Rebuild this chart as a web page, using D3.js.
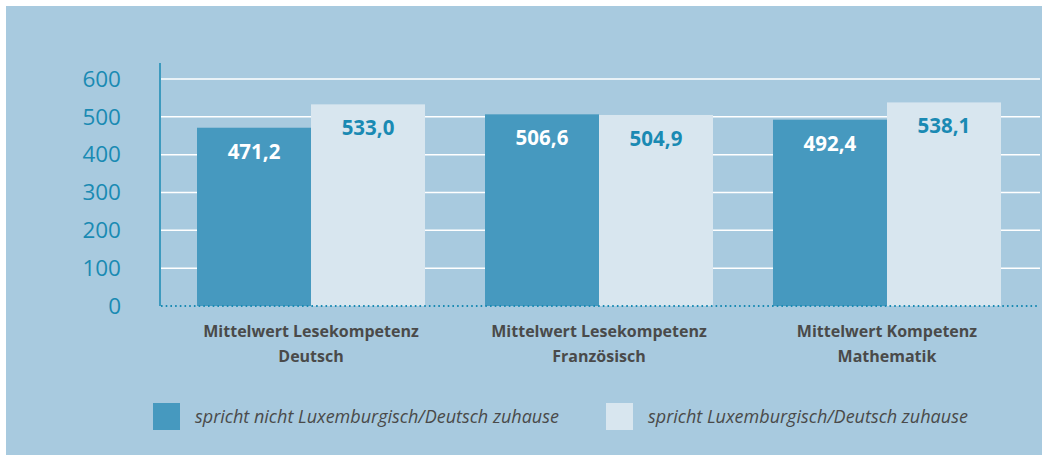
<!DOCTYPE html>
<html>
<head>
<meta charset="utf-8">
<script src="https://cdn.jsdelivr.net/npm/d3@7"></script>
<style>
  body { margin: 0; background: #fff; }
  svg { display: block; }
</style>
</head>
<body>
<div id="chart"></div>
<script>
// chart data
const categories = [
  ["Mittelwert Lesekompetenz", "Deutsch"],
  ["Mittelwert Lesekompetenz", "Französisch"],
  ["Mittelwert Kompetenz", "Mathematik"]
]
const seriesNames = [
  "spricht nicht Luxemburgisch/Deutsch zuhause",
  "spricht Luxemburgisch/Deutsch zuhause"
]
const notLux = [471.2, 506.6, 492.4]
const lux = [533.0, 504.9, 538.1]
const yTicks = [0, 100, 200, 300, 400, 500, 600]

const W = 1042, H = 455
const BG = "#a8cadf", DARK = "#4699bf", LIGHT = "#d8e6ef", TEAL = "#1a8ab3", GREY = "#4a4a4a"
const fmt = v => d3.format(".1f")(v).replace(".", ",")

const svg = d3.select("#chart").append("svg")
  .attr("width", W)
  .attr("height", H)

svg.append("rect")
  .attr("x", 6).attr("y", 6)
  .attr("width", W - 6).attr("height", H - 6)
  .attr("fill", BG)

const y = d3.scaleLinear()
  .domain([0, 600])
  .range([306, 79])

const x0 = d3.scaleBand()
  .domain(d3.range(categories.length))
  .range([167, 1031])
  .paddingInner(0.2083)
  .paddingOuter(0.1042)

const x1 = d3.scaleBand()
  .domain([0, 1])
  .range([0, x0.bandwidth()])

const rows = categories.map((c, i) => ({ i, values: [notLux[i], lux[i]] }))

// gridlines
svg.append("g")
  .selectAll("line")
  .data(yTicks.filter(d => d > 0))
  .join("line")
    .attr("x1", 161).attr("x2", 1040)
    .attr("y1", d => y(d)).attr("y2", d => y(d))
    .attr("stroke", "#fff")
    .attr("stroke-width", 1.5)

// y axis
const yAxis = svg.append("g")
  .attr("transform", "translate(160,0)")
  .call(d3.axisLeft(y).tickValues(yTicks).tickSize(0).tickPadding(39))
yAxis.select(".domain").remove()
yAxis.selectAll("text")
  .attr("fill", TEAL)
  .attr("font-family", "Open Sans")
  .attr("font-size", 22.5)

svg.append("line")
  .attr("x1", 160).attr("x2", 160)
  .attr("y1", 63).attr("y2", 306)
  .attr("stroke", TEAL)
  .attr("stroke-width", 1.5)

// bars
const groups = svg.append("g")
  .selectAll("g")
  .data(rows)
  .join("g")
    .attr("transform", d => `translate(${x0(d.i)},0)`)

groups.selectAll("rect")
  .data(d => d.values)
  .join("rect")
    .attr("x", (d, j) => x1(j))
    .attr("width", x1.bandwidth())
    .attr("y", d => y(d))
    .attr("height", d => y(0) - y(d))
    .attr("fill", (d, j) => j ? LIGHT : DARK)

groups.selectAll("text.val")
  .data(d => d.values)
  .join("text")
    .attr("class", "val")
    .attr("x", (d, j) => x1(j) + x1.bandwidth() / 2)
    .attr("y", d => y(d) + 31)
    .attr("text-anchor", "middle")
    .attr("font-family", "Open Sans")
    .attr("font-weight", "bold")
    .attr("font-size", 20.5)
    .attr("fill", (d, j) => j ? TEAL : "#fff")
    .text(fmt)

// dotted baseline
svg.append("line")
  .attr("x1", 161).attr("x2", 1038)
  .attr("y1", y(0)).attr("y2", y(0))
  .attr("stroke", TEAL)
  .attr("stroke-width", 1.8)
  .attr("stroke-dasharray", "1.6 3.1")

// category labels
const catLabels = svg.append("g")
  .selectAll("text")
  .data(categories)
  .join("text")
    .attr("x", (d, i) => x0(i) + x0.bandwidth() / 2)
    .attr("y", 337)
    .attr("text-anchor", "middle")
    .attr("font-family", "Open Sans")
    .attr("font-weight", "bold")
    .attr("font-size", 16)
    .attr("fill", GREY)
catLabels.selectAll("tspan")
  .data(d => d)
  .join("tspan")
    .attr("x", function () { return this.parentNode.getAttribute("x") })
    .attr("dy", (d, k) => k ? 25 : 0)
    .text(d => d)

// legend
const legendX = [153, 606]
const legend = svg.append("g")
  .selectAll("g")
  .data(seriesNames)
  .join("g")
    .attr("transform", (d, i) => `translate(${legendX[i]},403)`)
legend.append("rect")
  .attr("width", 27).attr("height", 27)
  .attr("fill", (d, i) => i ? LIGHT : DARK)
legend.append("text")
  .attr("x", 42).attr("y", 20)
  .attr("font-family", "Open Sans")
  .attr("font-style", "italic")
  .attr("font-size", 18)
  .attr("fill", GREY)
  .text(d => d)
</script>
</body>
</html>
